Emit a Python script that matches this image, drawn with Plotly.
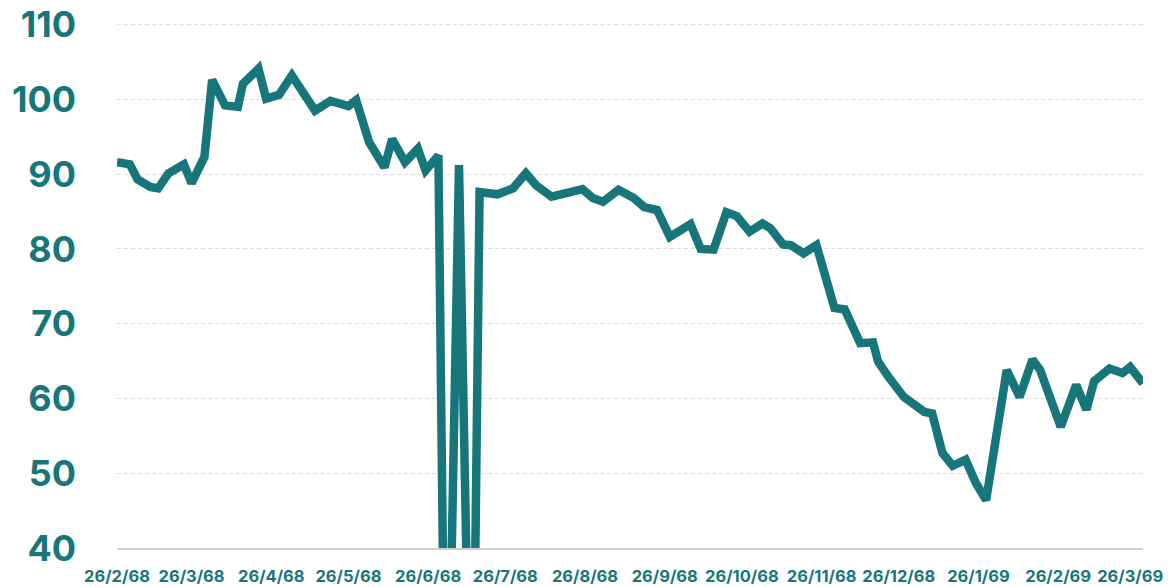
import plotly.graph_objects as go

dates = [
    "1968-02-26", "1968-03-02", "1968-03-05", "1968-03-10", "1968-03-13", "1968-03-17",
    "1968-03-23", "1968-03-26", "1968-03-31", "1968-04-03", "1968-04-08", "1968-04-13",
    "1968-04-15", "1968-04-21", "1968-04-24", "1968-04-29", "1968-05-04", "1968-05-13",
    "1968-05-19", "1968-05-26", "1968-05-29", "1968-06-03", "1968-06-09", "1968-06-12",
    "1968-06-17", "1968-06-22", "1968-06-25", "1968-06-30", "1968-07-03", "1968-07-08",
    "1968-07-13", "1968-07-16", "1968-07-23", "1968-07-29", "1968-08-03", "1968-08-07",
    "1968-08-13", "1968-08-19", "1968-08-25", "1968-08-29", "1968-09-02", "1968-09-08",
    "1968-09-14", "1968-09-18", "1968-09-23", "1968-09-28", "1968-10-06", "1968-10-10",
    "1968-10-15", "1968-10-20", "1968-10-24", "1968-10-29", "1968-11-03", "1968-11-06",
    "1968-11-11", "1968-11-14", "1968-11-19", "1968-11-24", "1968-12-01", "1968-12-05",
    "1968-12-11", "1968-12-16", "1968-12-18", "1968-12-22", "1968-12-28", "1969-01-05",
    "1969-01-08", "1969-01-12", "1969-01-16", "1969-01-21", "1969-01-25", "1969-01-29",
    "1969-02-06", "1969-02-11", "1969-02-16", "1969-02-19", "1969-02-27", "1969-03-05",
    "1969-03-09", "1969-03-12", "1969-03-18", "1969-03-23", "1969-03-26", "1969-03-31",
]

values = [
    91.6, 91.3, 89.3, 88.3, 88.1, 90.1,
    91.3, 88.8, 92.3, 102.6, 99.2, 99.0,
    102.1, 104.1, 100.1, 100.6, 103.2, 98.5,
    99.8, 99.1, 99.9, 94.3, 90.9, 94.7,
    91.6, 93.4, 90.5, 92.5, 0, 91.2,
    0, 87.6, 87.3, 88.1, 90.1, 88.5,
    87.0, 87.4, 88.0, 86.8, 86.3, 87.9,
    86.8, 85.6, 85.2, 81.6, 83.3, 80.0,
    79.9, 84.9, 84.4, 82.3, 83.4, 82.8,
    80.6, 80.5, 79.4, 80.5, 72.1, 71.9,
    67.4, 67.5, 64.9, 62.9, 60.2, 58.2,
    58.0, 52.7, 51.0, 51.8, 48.7, 46.4,
    63.8, 60.2, 65.2, 63.8, 56.2, 61.8,
    58.5, 62.3, 64.0, 63.4, 64.2, 62.0,
]

tick_dates = [
    "1968-02-26", "1968-03-26", "1968-04-26", "1968-05-26", "1968-06-26", "1968-07-26",
    "1968-08-26", "1968-09-26", "1968-10-26", "1968-11-26", "1968-12-26", "1969-01-26",
    "1969-02-26", "1969-03-26",
]
tick_labels = [
    "26/2/68", "26/3/68", "26/4/68", "26/5/68", "26/6/68", "26/7/68",
    "26/8/68", "26/9/68", "26/10/68", "26/11/68", "26/12/68", "26/1/69",
    "26/2/69", "26/3/69",
]
y_ticks = [40, 50, 60, 70, 80, 90, 100, 110]

TEAL = "#17767a"
GRID = "#dcdcdc"

fig = go.Figure()
fig.add_trace(go.Scatter(
    x=dates, y=values, mode="lines",
    line=dict(color=TEAL, width=8.5),
    hoverinfo="x+y", showlegend=False,
))

# top gridline (Plotly omits gridlines that sit on the plot edge)
fig.add_shape(
    type="line", xref="paper", x0=0, x1=1, yref="y", y0=y_ticks[-1], y1=y_ticks[-1],
    line=dict(color=GRID, width=1, dash="4px,3px"), layer="below",
)

fig.update_layout(
    width=1166, height=579,
    margin=dict(l=109, r=31, t=16, b=39),
    paper_bgcolor="white", plot_bgcolor="white",
    font=dict(family="Inter, sans-serif", color=TEAL),
    xaxis=dict(
        type="date",
        range=[dates[0], dates[-1]],
        tickvals=tick_dates, ticktext=tick_labels,
        showgrid=False, zeroline=False,
        showline=True, linecolor="#d0d0d0", linewidth=1.5,
        ticks="", ticklabelstandoff=12, automargin=False,
        ticklabeloverflow="allow",
        tickfont=dict(family="Inter, sans-serif", size=16.5, color=TEAL, weight=700),
    ),
    yaxis=dict(
        range=[40, 110.08],
        tickvals=y_ticks,
        showgrid=True, gridcolor=GRID, gridwidth=1, griddash="4px,3px",
        zeroline=False, showline=False,
        ticks="", ticklabelstandoff=40, automargin=False,
        ticklabeloverflow="allow",
        tickfont=dict(family="Inter, sans-serif", size=36, color=TEAL, weight=700),
    ),
)

fig.write_html("out.html")
